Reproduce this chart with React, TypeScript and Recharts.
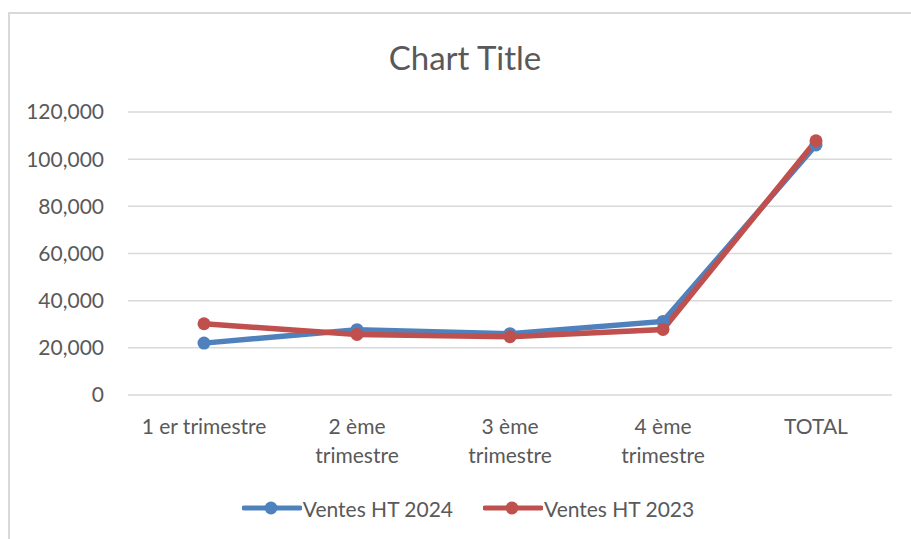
import { CartesianGrid, Legend, Line, LineChart, XAxis, YAxis } from 'recharts'

const categories = ['1 er trimestre', '2 ème\ntrimestre', '3 ème\ntrimestre', '4 ème\ntrimestre', 'TOTAL']
const ventes2024 = [22000, 27700, 26000, 31200, 106000]
const ventes2023 = [30200, 25700, 24700, 27800, 107800]
const yTicks = [0, 20000, 40000, 60000, 80000, 100000, 120000]

const seriesList = [
  { key: 'v2024', name: 'Ventes HT 2024', color: '#4f81bd' },
  { key: 'v2023', name: 'Ventes HT 2023', color: '#c0504d' },
]

const data = categories.map((c, i) => ({ cat: c, v2024: ventes2024[i], v2023: ventes2023[i] }))

const FONT = 'Lato, "Open Sans", sans-serif'
const TEXT = '#595959'
const GRID = '#d9d9d9'

function CatTick({ x, y, payload }: any) {
  const lines = String(payload.value).split('\n')
  return (
    <text x={x} y={y} textAnchor="middle" fill={TEXT} fontSize={21} fontFamily={FONT}>
      {lines.map((l, i) => (
        <tspan key={i} x={x} dy={i === 0 ? 31 : 29}>
          {l}
        </tspan>
      ))}
    </text>
  )
}

function LegendContent() {
  return (
    <div style={{ display: 'flex', justifyContent: 'center', gap: 30, height: 30, alignItems: 'center', paddingLeft: 16 }}>
      {seriesList.map((s) => (
        <div key={s.key} style={{ display: 'flex', alignItems: 'center', fontFamily: FONT, fontSize: 21, color: TEXT }}>
          <svg width={60} height={16} style={{ marginRight: 1 }}>
            <line x1={2} y1={8} x2={58} y2={8} stroke={s.color} strokeWidth={5} strokeLinecap="round" />
            <circle cx={29} cy={8} r={6.5} fill={s.color} />
          </svg>
          {s.name}
        </div>
      ))}
    </div>
  )
}

export default function App() {
  return (
    <div style={{ position: 'absolute', left: 0, top: 0, width: 911, height: 539, background: '#fff', overflow: 'hidden' }}>
      <div
        style={{
          position: 'absolute',
          left: 8,
          top: 12,
          width: 920,
          height: 540,
          borderLeft: `2px solid ${GRID}`,
          borderTop: `2px solid ${GRID}`,
        }}
      />
      <div
        style={{
          position: 'absolute',
          left: 0,
          width: 930,
          top: 37,
          textAlign: 'center',
          fontFamily: FONT,
          fontSize: 33,
          color: TEXT,
        }}
      >
        Chart Title
      </div>
      <div style={{ position: 'absolute', left: 0, top: 0 }}>
        <LineChart width={911} height={539} data={data} margin={{ top: 112, right: 19, left: 28, bottom: 16 }}>
          <CartesianGrid vertical={false} stroke={GRID} strokeWidth={1.5} />
          <XAxis
            dataKey="cat"
            axisLine={false}
            tickLine={false}
            interval={0}
            height={98}
            padding={{ left: 76, right: 76 }}
            tick={<CatTick />}
          />
          <YAxis
            width={100}
            domain={[0, 120000]}
            ticks={yTicks}
            axisLine={false}
            tickLine={false}
            tickSize={0}
            tickMargin={24}
            tick={{ fill: TEXT, fontSize: 21, fontFamily: FONT }}
            tickFormatter={(v: number) => v.toLocaleString('en-US')}
          />
          <Legend verticalAlign="bottom" height={30} content={<LegendContent />} />
          {seriesList.map((s) => (
            <Line
              key={s.key}
              dataKey={s.key}
              name={s.name}
              stroke={s.color}
              strokeWidth={5.5}
              dot={{ r: 6.5, fill: s.color, stroke: s.color, strokeWidth: 0 }}
              isAnimationActive={false}
            />
          ))}
        </LineChart>
      </div>
    </div>
  )
}
